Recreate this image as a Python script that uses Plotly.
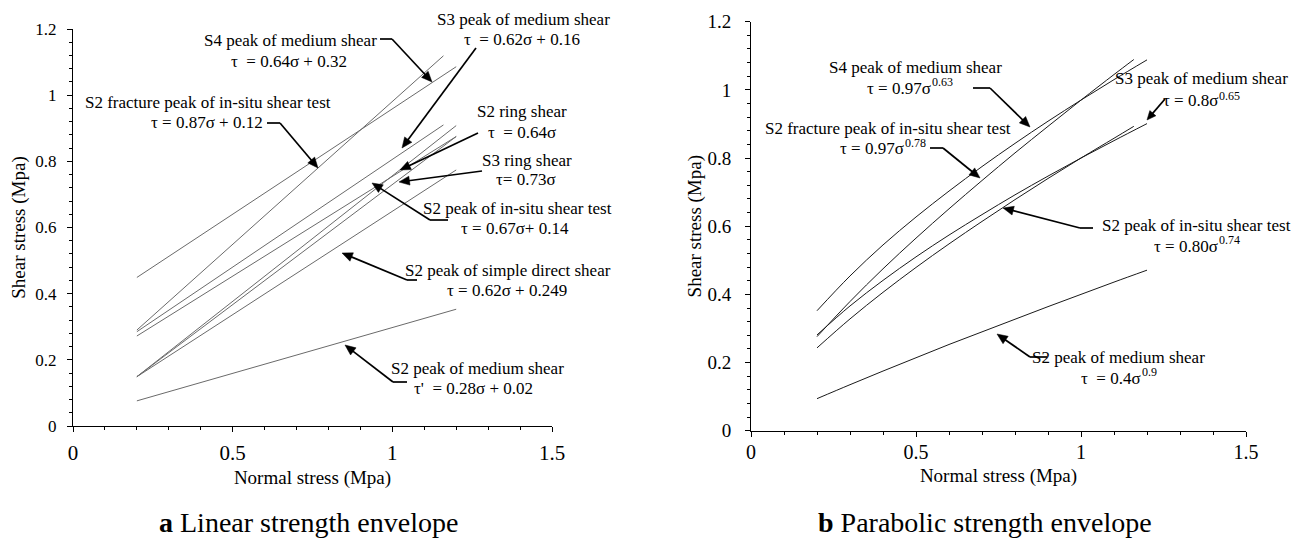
import math
import plotly.graph_objects as go

W, H = 1307, 542

# ---------------- data: (a) linear envelopes (start/end points)
lin_names = ["S4 peak of medium shear", "S2 fracture peak of in-situ shear test",
             "S3 peak of medium shear", "S2 peak of in-situ shear test",
             "S3 ring shear", "S2 ring shear", "S2 peak of simple direct shear",
             "S2 peak of medium shear"]
lin_x = [[0.2, 1.2], [0.2, 1.16], [0.2, 1.16], [0.2, 1.2],
         [0.2, 1.2], [0.2, 1.2], [0.2, 1.2], [0.2, 1.2]]
lin_y = [[0.449, 1.086], [0.290, 1.119], [0.285, 0.910], [0.272, 0.875],
         [0.149, 0.875], [0.149, 0.908], [0.149, 0.774], [0.076, 0.353]]

# ---------------- data: (b) parabolic envelopes
par_names = ["S4 peak of medium shear", "S2 fracture peak of in-situ shear test",
             "S3 peak of medium shear", "S2 peak of in-situ shear test",
             "S2 peak of medium shear"]
sig_full = [0.2, 0.3, 0.4, 0.5, 0.6, 0.7, 0.8, 0.9, 1.0, 1.1, 1.2]
sig_short = [0.2, 0.3, 0.4, 0.5, 0.6, 0.7, 0.8, 0.9, 1.0, 1.1, 1.16]
par_x = [sig_full, sig_short, sig_full, sig_short, sig_full]
par_y = [
    [0.352, 0.454, 0.545, 0.627, 0.703, 0.775, 0.843, 0.908, 0.970, 1.030, 1.088],
    [0.276, 0.379, 0.475, 0.565, 0.651, 0.734, 0.815, 0.893, 0.970, 1.045, 1.089],
    [0.281, 0.366, 0.441, 0.510, 0.574, 0.634, 0.692, 0.747, 0.800, 0.851, 0.901],
    [0.243, 0.328, 0.406, 0.479, 0.548, 0.614, 0.678, 0.740, 0.800, 0.858, 0.893],
    [0.094, 0.135, 0.175, 0.214, 0.253, 0.290, 0.327, 0.364, 0.400, 0.436, 0.471],
]

x_ticks = [0, 0.5, 1, 1.5]
x_tick_text = ["0", "0.5", "1", "1.5"]
y_ticks = [0, 0.2, 0.4, 0.6, 0.8, 1, 1.2]
y_tick_text = ["0", "0.2", "0.4", "0.6", "0.8", "1", "1.2"]

SERIF = "Liberation Serif"

fig = go.Figure()
for n, xs, ys in zip(lin_names, lin_x, lin_y):
    fig.add_trace(go.Scatter(x=xs, y=ys, mode="lines", name=n, showlegend=False,
                             line=dict(color="#6a6a6a", width=1), xaxis="x", yaxis="y"))
for n, xs, ys in zip(par_names, par_x, par_y):
    fig.add_trace(go.Scatter(x=xs, y=ys, mode="lines", name=n, showlegend=False,
                             line=dict(color="#1a1a1a", width=1, shape="spline"),
                             xaxis="x2", yaxis="y2"))


def px(v):
    return v / W


def py(v):
    return 1 - v / H


def axis_common(tick_vals, tick_text, tick_size, minor_dtick, standoff):
    return dict(
        tickmode="array", tickvals=tick_vals, ticktext=tick_text,
        showline=True, linecolor="black", linewidth=1,
        ticks="outside", ticklen=5, tickwidth=1, tickcolor="black",
        minor=dict(ticks="outside", ticklen=3, tickwidth=1, tickcolor="black", dtick=minor_dtick),
        showgrid=False, zeroline=False, automargin=False,
        tickfont=dict(family=SERIF, size=tick_size, color="black"),
        ticklabelstandoff=standoff,
        fixedrange=True,
    )


TFONT = dict(family=SERIF, size=19, color="black")
xa = axis_common(x_ticks, x_tick_text, 21, 0.1, 3)
xa.update(domain=[px(73), px(552)], range=[0, 1.5], anchor="y",
          title=dict(text="Normal stress (Mpa)", font=TFONT, standoff=6))
ya = axis_common(y_ticks, y_tick_text, 17, 0.04, 7)
ya.update(domain=[py(426), py(29)], range=[0, 1.2], anchor="x",
          title=dict(text="Shear stress (Mpa)", font=TFONT, standoff=4))
xa2 = axis_common(x_ticks, x_tick_text, 20, 0.1, -2)
xa2.update(domain=[px(751), px(1246)], range=[0, 1.5], anchor="y2",
           title=dict(text="Normal stress (Mpa)", font=TFONT, standoff=6))
ya2 = axis_common(y_ticks, y_tick_text, 19, 0.04, 10)
ya2.update(domain=[py(430.7), py(21.7)], range=[0, 1.2], anchor="x2",
           title=dict(text="Shear stress (Mpa)", font=TFONT, standoff=0))

annotations = []
shapes = []


def label(text, cx, cy, size=17, anchor="center"):
    annotations.append(dict(x=px(cx), y=py(cy), xref="paper", yref="paper", text=text,
                            showarrow=False, xanchor=anchor, yanchor="middle",
                            borderpad=0, borderwidth=0,
                            font=dict(family=SERIF, size=size, color="black")))


def power_label(base, expo, split_x, cy, raise_px=6):
    # base text right-aligned at split_x, exponent raised and left-aligned after it
    label(base, split_x, cy, anchor="right")
    label(expo, split_x + 1, cy - raise_px, size=12, anchor="left")


def seg(a, b, w=1.7):
    shapes.append(dict(type="line", xref="paper", yref="paper",
                       x0=px(a[0]), y0=py(a[1]), x1=px(b[0]), y1=py(b[1]),
                       line=dict(color="black", width=w)))


def arrow(tail, tip, elbow_end=None, hl=10.5, hw=4.5):
    dx, dy = tip[0] - tail[0], tip[1] - tail[1]
    L = math.hypot(dx, dy)
    ux, uy = dx / L, dy / L
    bx, by = tip[0] - ux * hl, tip[1] - uy * hl
    nx, ny = -uy, ux
    seg(tail, (bx + ux * 1.0, by + uy * 1.0))
    p1 = (bx + nx * hw, by + ny * hw)
    p2 = (bx - nx * hw, by - ny * hw)
    path = "M {:.5f},{:.5f} L {:.5f},{:.5f} L {:.5f},{:.5f} Z".format(
        px(tip[0]), py(tip[1]), px(p1[0]), py(p1[1]), px(p2[0]), py(p2[1]))
    shapes.append(dict(type="path", xref="paper", yref="paper", path=path,
                       fillcolor="black", line=dict(color="black", width=0.5)))
    if elbow_end is not None:
        seg(tail, elbow_end)


# ---- (a) labels
label("S4 peak of medium shear", 290, 41)
label("τ&nbsp; = 0.64σ + 0.32", 289, 61)
arrow((392, 39), (432, 82), (380, 39))

label("S2 fracture peak of in-situ shear test", 208, 103)
label("τ = 0.87σ + 0.12", 207, 122)
arrow((280, 123), (318, 168), (267, 123))

label("S3 peak of medium shear", 523, 20)
label("τ&nbsp; = 0.62σ + 0.16", 522, 39)
arrow((476, 48), (402, 148))

label("S2 ring shear", 522, 112)
label("τ&nbsp; = 0.64σ", 522, 132)
arrow((478, 133), (400, 170))

label("S3 ring shear", 527, 160)
label("τ= 0.73σ", 526, 180)
arrow((482, 171), (399, 182))

label("S2 peak of in-situ shear test", 517, 208)
label("τ = 0.67σ+ 0.14", 515, 228)
arrow((430, 220), (372, 183), (448, 220))

label("S2 peak of simple direct shear", 508, 270)
label("τ = 0.62σ + 0.249", 507, 290)
arrow((407, 280), (342, 253), (417, 280))

label("S2 peak of medium shear", 477, 368)
label("τ'&nbsp; = 0.28σ + 0.02", 473, 388)
arrow((393, 382), (345, 345), (407, 382))

# ---- (b) labels
label("S4 peak of medium shear", 915, 67)
power_label("τ = 0.97σ", "0.63", 931, 88)
arrow((990, 88), (1030, 127), (973, 88))

label("S2 fracture peak of in-situ shear test", 888, 128)
power_label("τ = 0.97σ", "0.78", 904, 149)
arrow((943, 148), (980, 178), (930, 148))

label("S3 peak of medium shear", 1201, 78.5)
power_label("τ = 0.8σ", "0.65", 1218, 100.5, raise_px=4.5)
arrow((1165, 99), (1147, 120), hl=9, hw=4)

label("S2 peak of in-situ shear test", 1196, 225)
power_label("τ = 0.80σ", "0.74", 1218, 246)
arrow((1080, 228), (1003, 208), (1093, 228))

label("S2 peak of medium shear", 1118, 357)
power_label("τ&nbsp; = 0.4σ", "0.9", 1141, 378)
arrow((1030, 357), (997, 334), (1047, 357))

# ---- captions
label("<b>a</b> Linear strength envelope", 308, 522, size=28)
label("<b>b</b> Parabolic strength envelope", 985, 522, size=28)

fig.update_layout(
    width=W, height=H, margin=dict(l=0, r=0, t=0, b=0, autoexpand=False),
    paper_bgcolor="white", plot_bgcolor="white",
    xaxis=xa, yaxis=ya, xaxis2=xa2, yaxis2=ya2,
    annotations=annotations, shapes=shapes, showlegend=False,
    font=dict(family=SERIF, color="black"),
)

fig.write_html("out.html", config={"displayModeBar": False})
